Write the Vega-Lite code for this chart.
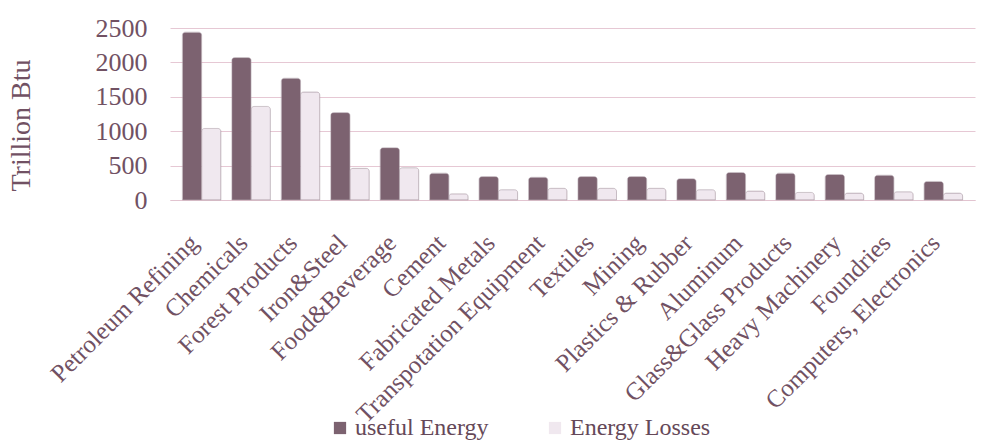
{
  "$schema": "https://vega.github.io/schema/vega-lite/v6.json",
  "autosize": "none",
  "width": 805,
  "height": 172,
  "padding": {"left": 170, "top": 28, "right": 9, "bottom": 244},
  "background": "white",
  "config": {
    "font": "Liberation Serif",
    "view": {"stroke": null},
    "axis": {"labelColor": "#715163", "titleColor": "#715163", "labelFont": "Liberation Serif", "titleFont": "Liberation Serif"}
  },
  "data": {
    "values": [
      {"industry": "Petroleum Refining", "type": "useful Energy", "value": 2440},
      {"industry": "Petroleum Refining", "type": "Energy Losses", "value": 1040},
      {"industry": "Chemicals", "type": "useful Energy", "value": 2070},
      {"industry": "Chemicals", "type": "Energy Losses", "value": 1360},
      {"industry": "Forest Products", "type": "useful Energy", "value": 1770},
      {"industry": "Forest Products", "type": "Energy Losses", "value": 1570},
      {"industry": "Iron&Steel", "type": "useful Energy", "value": 1270},
      {"industry": "Iron&Steel", "type": "Energy Losses", "value": 460},
      {"industry": "Food&Beverage", "type": "useful Energy", "value": 760},
      {"industry": "Food&Beverage", "type": "Energy Losses", "value": 470},
      {"industry": "Cement", "type": "useful Energy", "value": 390},
      {"industry": "Cement", "type": "Energy Losses", "value": 90},
      {"industry": "Fabricated Metals", "type": "useful Energy", "value": 340},
      {"industry": "Fabricated Metals", "type": "Energy Losses", "value": 150},
      {"industry": "Transpotation Equipment", "type": "useful Energy", "value": 330},
      {"industry": "Transpotation Equipment", "type": "Energy Losses", "value": 170},
      {"industry": "Textiles", "type": "useful Energy", "value": 340},
      {"industry": "Textiles", "type": "Energy Losses", "value": 170},
      {"industry": "Mining", "type": "useful Energy", "value": 340},
      {"industry": "Mining", "type": "Energy Losses", "value": 170},
      {"industry": "Plastics & Rubber", "type": "useful Energy", "value": 310},
      {"industry": "Plastics & Rubber", "type": "Energy Losses", "value": 150},
      {"industry": "Aluminum", "type": "useful Energy", "value": 400},
      {"industry": "Aluminum", "type": "Energy Losses", "value": 130},
      {"industry": "Glass&Glass Products", "type": "useful Energy", "value": 390},
      {"industry": "Glass&Glass Products", "type": "Energy Losses", "value": 110},
      {"industry": "Heavy Machinery", "type": "useful Energy", "value": 370},
      {"industry": "Heavy Machinery", "type": "Energy Losses", "value": 100},
      {"industry": "Foundries", "type": "useful Energy", "value": 360},
      {"industry": "Foundries", "type": "Energy Losses", "value": 120},
      {"industry": "Computers, Electronics", "type": "useful Energy", "value": 270},
      {"industry": "Computers, Electronics", "type": "Energy Losses", "value": 100}
    ]
  },
  "mark": {"type": "bar", "stroke": "#a898a2", "strokeWidth": 0.5, "cornerRadiusTopLeft": 3, "cornerRadiusTopRight": 3},
  "encoding": {
    "x": {
      "field": "industry",
      "type": "nominal",
      "sort": null,
      "scale": {"paddingInner": 0.22, "paddingOuter": 0.25},
      "axis": {
        "title": null,
        "labelAngle": -45,
        "labelFontSize": 25,
        "labelPadding": 30,
        "labelOffset": -16,
        "ticks": false,
        "domainColor": "#e2c4d0",
        "labelOverlap": false,
        "labelLimit": 400
      }
    },
    "xOffset": {"field": "type", "sort": ["useful Energy", "Energy Losses"]},
    "y": {
      "field": "value",
      "type": "quantitative",
      "scale": {"domain": [0, 2500], "nice": false},
      "axis": {
        "title": "Trillion Btu",
        "titleFontSize": 28,
        "titleFontWeight": "normal",
        "titleX": -149,
        "titleY": 97,
        "titleAngle": -90,
        "titleAlign": "center",
        "titleBaseline": "middle",
        "values": [0, 500, 1000, 1500, 2000, 2500],
        "format": "d",
        "labelFontSize": 26,
        "labelPadding": 23,
        "ticks": false,
        "domain": false,
        "gridColor": "#e6c8d4",
        "gridWidth": 1
      }
    },
    "color": {
      "field": "type",
      "type": "nominal",
      "sort": ["useful Energy", "Energy Losses"],
      "scale": {"domain": ["useful Energy", "Energy Losses"], "range": ["#7c6270", "#f0e8ef"]},
      "legend": {
        "title": null,
        "orient": "none",
        "direction": "horizontal",
        "legendX": 158,
        "legendY": 388,
        "labelFontSize": 24,
        "labelColor": "#654858",
        "labelFont": "Liberation Serif",
        "labelLimit": 300,
        "symbolType": "square",
        "symbolSize": 150,
        "symbolStrokeWidth": 0,
        "columnPadding": 54,
        "labelOffset": 3
      }
    }
  }
}
